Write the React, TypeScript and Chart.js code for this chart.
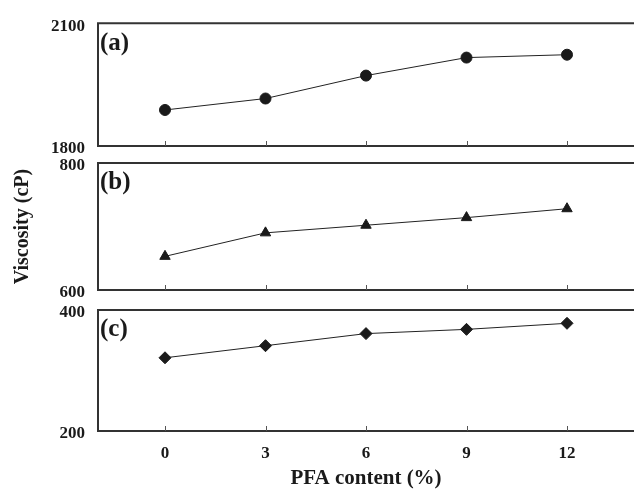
import { useEffect, useRef } from "react";
import { Chart, registerables } from "chart.js";

Chart.register(...registerables);

// ---- data ----
const pfaContent = [0, 3, 6, 9, 12];
const viscosityA = [1888, 1916, 1972, 2016, 2023];
const viscosityB = [653, 690, 702, 714, 728];
const viscosityC = [321, 341, 361, 368, 378];
const xTicks = [0, 3, 6, 9, 12];
const yTicksA = [1800, 2100];
const yTicksB = [600, 800];
const yTicksC = [200, 400];
const panelLabels = ["(a)", "(b)", "(c)"];
const xTitle = "PFA content (%)";
const yTitle = "Viscosity (cP)";

const W = 634;
const H = 496;
const FONT = "'Liberation Serif', 'Times New Roman', serif";
const INK = "#1a1a1a";

const framePlugin = {
  id: "frame",
  afterDatasetsDraw(chart: any, _args: any, opts: any) {
    const { ctx, chartArea } = chart;
    const { left, top, right, bottom } = chartArea;
    const xs = chart.scales.x;
    ctx.save();
    ctx.strokeStyle = "#333";
    ctx.lineWidth = 2;
    ctx.beginPath();
    ctx.moveTo(right + 4, top);
    ctx.lineTo(left, top);
    ctx.lineTo(left, bottom);
    ctx.lineTo(right + 4, bottom);
    ctx.stroke();
    ctx.lineWidth = 1;
    ctx.strokeStyle = "#555";
    ctx.beginPath();
    for (const t of xTicks) {
      const px = Math.round(xs.getPixelForValue(t)) + 0.5;
      ctx.moveTo(px, bottom);
      ctx.lineTo(px, bottom - 5);
    }
    ctx.stroke();
    ctx.fillStyle = INK;
    ctx.font = `bold 25px ${FONT}`;
    ctx.textBaseline = "middle";
    ctx.textAlign = "left";
    ctx.fillText(opts.label, left + 2, top + 20);
    ctx.restore();
  },
};

type Panel = {
  values: number[];
  yTicks: number[];
  label: string;
  pointStyle: string;
  radius: number;
  padTop: number;
  padBottom: number;
  showX: boolean;
  showYTitle: boolean;
};

const panels: Panel[] = [
  { values: viscosityA, yTicks: yTicksA, label: panelLabels[0], pointStyle: "circle", radius: 5.5, padTop: 17, padBottom: H - 146, showX: false, showYTitle: false },
  { values: viscosityB, yTicks: yTicksB, label: panelLabels[1], pointStyle: "triangle", radius: 6, padTop: 163, padBottom: H - 290, showX: false, showYTitle: true },
  { values: viscosityC, yTicks: yTicksC, label: panelLabels[2], pointStyle: "rectRot", radius: 6, padTop: 310, padBottom: 0, showX: true, showYTitle: false },
];

function PanelChart({ p }: { p: Panel }) {
  const ref = useRef<HTMLCanvasElement>(null);
  useEffect(() => {
    if (!ref.current) return;
    const chart = new Chart(ref.current, {
      type: "line",
      data: {
        datasets: [
          {
            data: pfaContent.map((x, i) => ({ x, y: p.values[i] })),
            borderColor: "#222",
            borderWidth: 1,
            pointStyle: p.pointStyle as any,
            pointRadius: p.radius,
            pointBackgroundColor: INK,
            pointBorderColor: INK,
            pointBorderWidth: 1,
          },
        ],
      },
      options: {
        animation: false,
        responsive: false,
        layout: { autoPadding: false, padding: { top: p.padTop, bottom: p.padBottom, left: 0, right: 0 } },
        plugins: {
          legend: { display: false },
          tooltip: { enabled: false },
          frame: { label: p.label },
        } as any,
        scales: {
          x: {
            type: "linear",
            min: -2,
            max: 14,
            display: p.showX,
            afterBuildTicks: (s: any) => {
              s.ticks = xTicks.map((v) => ({ value: v }));
            },
            afterFit: (s: any) => {
              if (p.showX) s.height = 65;
            },
            grid: { display: false, drawTicks: false },
            border: { display: false },
            ticks: {
              padding: 12,
              color: INK,
              font: { family: FONT, size: 17, weight: "bold" },
              maxRotation: 0,
              autoSkip: false,
              callback: (v: any) => String(v),
            },
            title: {
              display: true,
              text: xTitle,
              color: INK,
              font: { family: FONT, size: 21, weight: "bold" },
              padding: { top: 0, bottom: 5 },
            },
          },
          y: {
            type: "linear",
            min: p.yTicks[0],
            max: p.yTicks[p.yTicks.length - 1],
            afterBuildTicks: (s: any) => {
              s.ticks = p.yTicks.map((v) => ({ value: v }));
            },
            afterFit: (s: any) => {
              s.width = 98;
            },
            grid: { display: false, drawTicks: false },
            border: { display: false },
            ticks: {
              padding: 13,
              labelOffset: 3,
              color: INK,
              font: { family: FONT, size: 17, weight: "bold" },
              autoSkip: false,
              callback: (v: any) => String(v),
            },
            title: {
              display: p.showYTitle,
              text: yTitle,
              color: INK,
              font: { family: FONT, size: 20, weight: "bold" },
              padding: { top: 11, bottom: 0 },
            },
          },
        },
      },
      plugins: [framePlugin as any],
    });
    return () => chart.destroy();
  }, [p]);
  return (
    <canvas
      ref={ref}
      width={W}
      height={H}
      style={{ position: "absolute", left: 0, top: 0, width: W, height: H }}
    />
  );
}

export default function App() {
  return (
    <div style={{ position: "fixed", left: 0, top: 0, width: W, height: H, background: "#fff" }}>
      {panels.map((p, i) => (
        <PanelChart key={i} p={p} />
      ))}
    </div>
  );
}
